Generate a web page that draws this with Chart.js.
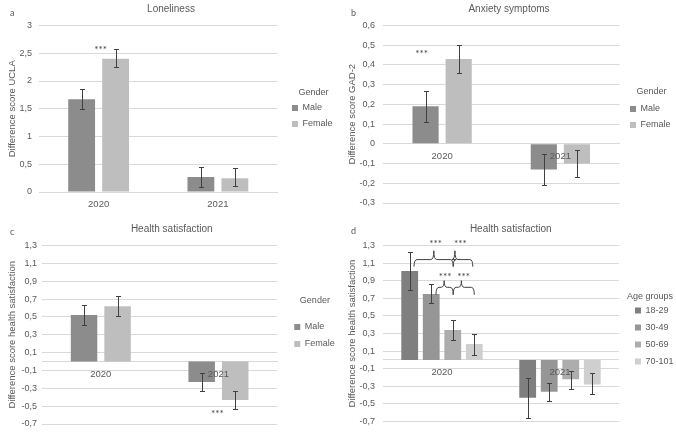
<!DOCTYPE html>
<html>
<head>
<meta charset="utf-8">
<script src="https://cdn.jsdelivr.net/npm/chart.js@4"></script>
<style>
  body { margin: 0; background: #fff; width: 676px; height: 435px; position: relative; overflow: hidden; font-family: Lato, "Liberation Sans", sans-serif; }
  .panel { position: absolute; width: 338px; }
  .tag { position: absolute; font-size: 9px; color: #595959; }
</style>
</head>
<body>
<div class="panel" style="left:0;top:0;height:217px"><canvas id="chartA"></canvas></div>
<div class="panel" style="left:338px;top:0;height:217px"><canvas id="chartB"></canvas></div>
<div class="panel" style="left:0;top:217px;height:218px"><canvas id="chartC"></canvas></div>
<div class="panel" style="left:338px;top:217px;height:218px"><canvas id="chartD"></canvas></div>
<div class="tag" style="left:10px;top:7px">a</div>
<div class="tag" style="left:351px;top:7px">b</div>
<div class="tag" style="left:10px;top:226px">c</div>
<div class="tag" style="left:351px;top:225px">d</div>
<script>
const years = ["2020", "2021"];
const genders = ["Male", "Female"];
const ageGroups = ["18-29", "30-49", "50-69", "70-101"];

// a: loneliness
const lonelyMale = [1.67, 0.27];
const lonelyFemale = [2.40, 0.25];
const lonelyMaleErr = [[1.49, 1.86], [0.09, 0.45]];
const lonelyFemaleErr = [[2.25, 2.57], [0.10, 0.43]];

// b: anxiety
const anxMale = [0.19, -0.13];
const anxFemale = [0.43, -0.10];
const anxMaleErr = [[0.11, 0.27], [-0.21, -0.05]];
const anxFemaleErr = [[0.36, 0.50], [-0.17, -0.03]];

// c: health satisfaction by gender
const healthMale = [0.52, -0.23];
const healthFemale = [0.62, -0.43];
const healthMaleErr = [[0.41, 0.63], [-0.33, -0.13]];
const healthFemaleErr = [[0.51, 0.73], [-0.53, -0.33]];

// d: health satisfaction by age group
const healthAge = [[1.01, -0.43], [0.75, -0.36], [0.34, -0.22], [0.18, -0.28]];
const healthAgeErr = [
  [[0.80, 1.23], [-0.66, -0.21]],
  [[0.65, 0.86], [-0.47, -0.26]],
  [[0.23, 0.45], [-0.33, -0.12]],
  [[0.06, 0.30], [-0.39, -0.15]]
];

const genderColors = ["#8c8c8c", "#bebebe"];
const ageColors = ["#7f7f7f", "#969696", "#adadad", "#cfcfcf"];
const textColor = "#595959";
const gridColor = "#d9d9d9";

// bar x in a category, pos = fractional dataset index
function barX(chart, cat, pos) {
  const n = chart.data.datasets.length;
  const i = Math.max(0, Math.min(n - 2, Math.floor(pos)));
  const a = chart.getDatasetMeta(i).data[cat].x;
  const b = chart.getDatasetMeta(i + 1).data[cat].x;
  return a + (b - a) * (pos - i);
}

const errorBars = {
  id: "errorBars",
  afterDatasetsDraw(chart) {
    const { ctx } = chart;
    const y = chart.scales.y;
    ctx.save();
    ctx.strokeStyle = "#404040";
    ctx.lineWidth = 1;
    chart.data.datasets.forEach((ds, i) => {
      chart.getDatasetMeta(i).data.forEach((bar, j) => {
        const [lo, hi] = ds.errors[j];
        const x = Math.round(bar.x) + 0.5;
        const yl = Math.round(y.getPixelForValue(lo)) + 0.5;
        const yh = Math.round(y.getPixelForValue(hi)) + 0.5;
        ctx.beginPath();
        ctx.moveTo(x, yl); ctx.lineTo(x, yh);
        ctx.moveTo(x - 2.5, yl); ctx.lineTo(x + 2.5, yl);
        ctx.moveTo(x - 2.5, yh); ctx.lineTo(x + 2.5, yh);
        ctx.stroke();
      });
    });
    ctx.restore();
  }
};

const marks = {
  id: "marks",
  afterDraw(chart, args, opts) {
    const { ctx } = chart;
    const y = chart.scales.y;
    ctx.save();
    ctx.fillStyle = "#404040";
    ctx.strokeStyle = "#404040";
    ctx.lineWidth = 1;
    ctx.font = "10px Lato, 'Liberation Sans', sans-serif";
    ctx.textAlign = "center";
    ctx.textBaseline = "alphabetic";
    (opts.stars || []).forEach((s) => {
      ctx.fillText("***", barX(chart, s.cat, s.pos), y.getPixelForValue(s.value) + 6);
    });
    (opts.braces || []).forEach((b) => {
      const x0 = barX(chart, b.cat, b.from), x1 = barX(chart, b.cat, b.to), xt = barX(chart, b.cat, b.tip);
      const yh = y.getPixelForValue(b.value), yd = y.getPixelForValue(b.drop), yr = y.getPixelForValue(b.rise);
      ctx.beginPath();
      ctx.moveTo(x0, yd);
      ctx.quadraticCurveTo(x0, yh, x0 + 3, yh);
      ctx.lineTo(xt - 3, yh);
      ctx.quadraticCurveTo(xt, yh, xt, yr);
      ctx.quadraticCurveTo(xt, yh, xt + 3, yh);
      ctx.lineTo(x1 - 3, yh);
      ctx.quadraticCurveTo(x1, yh, x1, yd);
      ctx.stroke();
    });
    ctx.restore();
  }
};

const tickText = (v) => String(+v.toFixed(1)).replace(".", ",");

function makeChart(id, o) {
  return new Chart(document.getElementById(id), {
    type: "bar",
    data: { labels: years, datasets: o.datasets },
    plugins: [errorBars, marks],
    options: {
      responsive: true,
      maintainAspectRatio: false,
      animation: false,
      categoryPercentage: o.catPct,
      barPercentage: o.barPct,
      layout: { padding: { top: o.padTop, bottom: o.padBottom, left: 0, right: o.padRight } },
      scales: {
        x: {
          position: { y: 0 },
          grid: { display: false, drawTicks: false },
          border: { color: gridColor },
          ticks: { color: textColor, font: { size: 9.5 }, padding: 7, z: 1 }
        },
        y: {
          min: o.yMin, max: o.yMax,
          grid: { color: gridColor, drawTicks: false },
          border: { display: false },
          ticks: { stepSize: o.step, color: textColor, font: { size: 9 }, padding: o.tickPad, callback: tickText },
          title: { display: true, text: o.yTitle, color: textColor, font: { size: 9.5 }, padding: { top: o.yTitlePad, bottom: 0 } },
          afterFit: (s) => { s.width = o.yWidth; }
        },
        gap: {
          position: "right",
          grid: { display: false },
          border: { display: false },
          ticks: { display: false },
          afterFit: (s) => { s.width = o.rightGap; }
        }
      },
      plugins: {
        title: { display: true, text: o.title, color: textColor, font: { size: 10, weight: "normal" }, padding: { top: 3.5, bottom: 10 } },
        legend: {
          position: "right",
          align: "start",
          title: {
            display: true, text: o.legendTitle, position: o.legAlign || "center", color: textColor,
            font: { size: 9, lineHeight: 1 }, padding: { top: o.legTop, bottom: o.legBottom }
          },
          labels: { boxWidth: 6, boxHeight: 6, padding: o.legendPad, color: textColor, font: { size: 9 } }
        },
        tooltip: { enabled: false },
        marks: { stars: o.stars, braces: o.braces }
      }
    }
  });
}

const genderSets = (vals, errs) => genders.map((g, i) => ({
  label: g, data: vals[i], errors: errs[i], backgroundColor: genderColors[i], borderWidth: 0
}));

makeChart("chartA", {
  title: "Loneliness", yTitle: "Difference score UCLA", legendTitle: "Gender",
  datasets: genderSets([lonelyMale, lonelyFemale], [lonelyMaleErr, lonelyFemaleErr]),
  yMin: 0, yMax: 3, step: 0.5,
  yWidth: 39, yTitlePad: 7, tickPad: 7, padTop: 0, padBottom: 25, padRight: -4, rightGap: 7.5,
  legendPad: 7, legTop: 88.5, legBottom: -1,
  catPct: 0.57, barPct: 0.79,
  stars: [{ cat: 0, pos: 0.56, value: 2.62 }]
});

makeChart("chartB", {
  title: "Anxiety symptoms", yTitle: "Difference score GAD-2", legendTitle: "Gender",
  datasets: genderSets([anxMale, anxFemale], [anxMaleErr, anxFemaleErr]),
  yMin: -0.3, yMax: 0.6, step: 0.1,
  yWidth: 45, yTitlePad: 9, tickPad: 8, padTop: 0, padBottom: 14, padRight: -4, rightGap: 3.5,
  legendPad: 7, legTop: 87.5, legBottom: 1,
  catPct: 0.56, barPct: 0.79,
  stars: [{ cat: 0, pos: -0.12, value: 0.47 }]
});

makeChart("chartC", {
  title: "Health satisfaction", yTitle: "Difference score health satisfaction", legendTitle: "Gender",
  datasets: genderSets([healthMale, healthFemale], [healthMaleErr, healthFemaleErr]),
  yMin: -0.7, yMax: 1.3, step: 0.2,
  yWidth: 42, yTitlePad: 7, tickPad: 5, padTop: 3, padBottom: 11, padRight: -5.5, rightGap: 9,
  legendPad: 8, legTop: 76.5, legBottom: 9,
  catPct: 0.57, barPct: 0.79,
  stars: [{ cat: 1, pos: 0.47, value: -0.55 }]
});

makeChart("chartD", {
  title: "Health satisfaction", yTitle: "Difference score health satisfaction", legendTitle: "Age groups",
  datasets: ageGroups.map((g, i) => ({
    label: g, data: healthAge[i], errors: healthAgeErr[i], backgroundColor: ageColors[i], borderWidth: 0
  })),
  yMin: -0.7, yMax: 1.3, step: 0.2,
  yWidth: 45, yTitlePad: 9, tickPad: 8, padTop: 3, padBottom: 11, padRight: -7.5, rightGap: 8,
  legendPad: 8, legTop: 72, legBottom: -3, legAlign: "start",
  catPct: 0.73, barPct: 0.78,
  stars: [
    { cat: 0, pos: 1.2, value: 1.35 }, { cat: 0, pos: 2.35, value: 1.35 },
    { cat: 0, pos: 1.65, value: 0.98 }, { cat: 0, pos: 2.5, value: 0.98 }
  ],
  braces: [
    { cat: 0, from: 0.2, to: 2.02, tip: 1.12, value: 1.14, drop: 1.06, rise: 1.24 },
    { cat: 0, from: 2.02, to: 2.93, tip: 2.1, value: 1.14, drop: 1.06, rise: 1.24 },
    { cat: 0, from: 1.22, to: 2.02, tip: 1.6, value: 0.825, drop: 0.74, rise: 0.90 },
    { cat: 0, from: 2.02, to: 3.0, tip: 2.4, value: 0.825, drop: 0.74, rise: 0.90 }
  ]
});
</script>
</body>
</html>
